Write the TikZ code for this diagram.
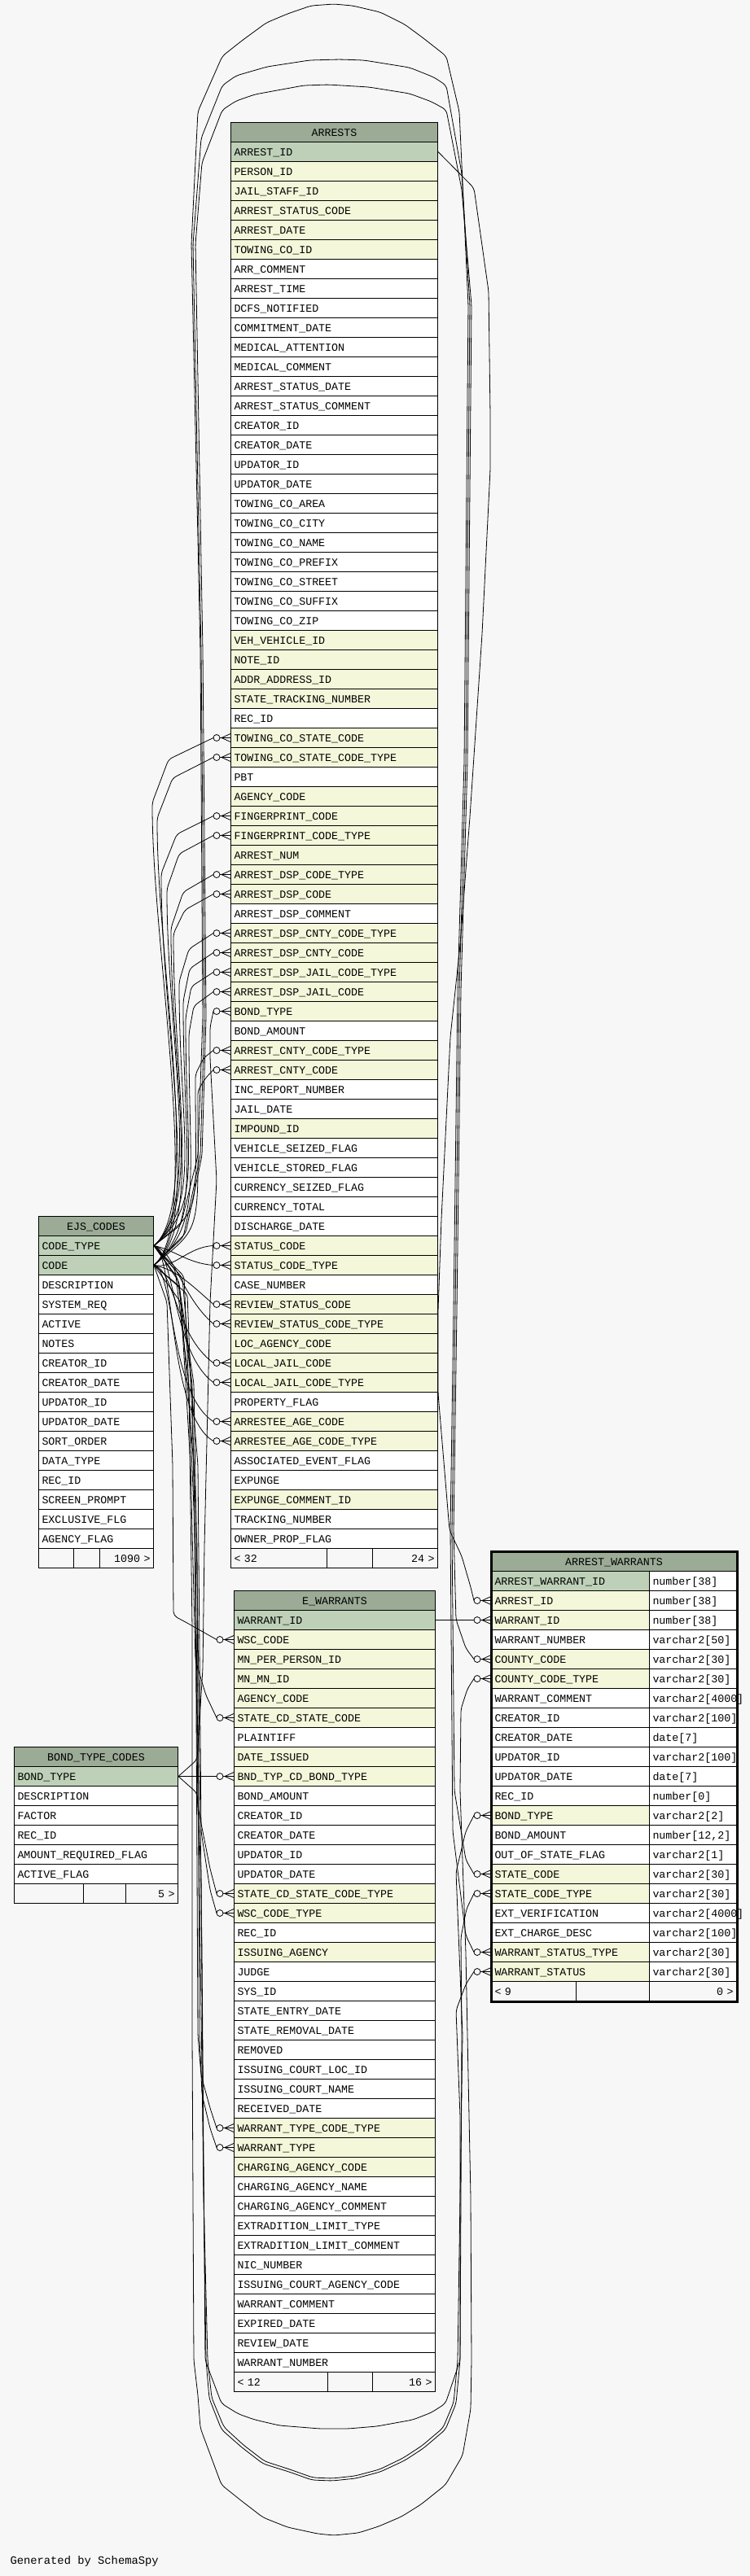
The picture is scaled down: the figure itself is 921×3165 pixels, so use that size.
\documentclass[tikz,border=0pt]{standalone}
\usepackage{fontspec}
\newfontfamily\tblfamily{Liberation Mono}
\newcommand{\tblfont}{\tblfamily\fontsize{13.3}{16}\selectfont}
\definecolor{bgcol}{HTML}{F7F7F7}
\definecolor{headcol}{HTML}{9BAB96}
\definecolor{keycol}{HTML}{BED1B8}
\definecolor{idxcol}{HTML}{F4F7DA}

\begin{document}
\catcode`\_=12
\begin{tikzpicture}[x=1pt,y=-1pt,
hdr/.style={draw,fill=headcol,anchor=north west,minimum height=24pt,inner xsep=4pt,inner ysep=0pt,align=center,text height=9pt,text depth=0pt,font=\tblfont,line width=1pt},
fld/.style={draw,anchor=north west,minimum height=24pt,inner xsep=4pt,inner ysep=0pt,align=left,text height=9pt,text depth=0pt,font=\tblfont,line width=1pt},
rel/.style={line width=0.8pt,rounded corners=5pt},
fkend/.pic={\draw[line width=0.8pt,fill=bgcol] (-17,0) circle[radius=4pt];
  \draw[line width=0.8pt] (-13,0) -- (0,0) (-11,0) -- (0,-5) (-11,0) -- (0,5);}]

\useasboundingbox (0,0) rectangle (921,3165);
\fill[bgcol] (0,0) rectangle (921,3165);

% ARRESTS
\node[hdr,text width=246pt] (ar) at (283,150) {ARRESTS};
\foreach \nm/\cl [count=\i] in {ARREST_ID/keycol, PERSON_ID/idxcol, JAIL_STAFF_ID/idxcol,
  ARREST_STATUS_CODE/idxcol, ARREST_DATE/idxcol, TOWING_CO_ID/idxcol, ARR_COMMENT/white,
  ARREST_TIME/white, DCFS_NOTIFIED/white, COMMITMENT_DATE/white, MEDICAL_ATTENTION/white,
  MEDICAL_COMMENT/white, ARREST_STATUS_DATE/white, ARREST_STATUS_COMMENT/white,
  CREATOR_ID/white, CREATOR_DATE/white, UPDATOR_ID/white, UPDATOR_DATE/white,
  TOWING_CO_AREA/white, TOWING_CO_CITY/white, TOWING_CO_NAME/white, TOWING_CO_PREFIX/white,
  TOWING_CO_STREET/white, TOWING_CO_SUFFIX/white, TOWING_CO_ZIP/white, VEH_VEHICLE_ID/idxcol,
  NOTE_ID/idxcol, ADDR_ADDRESS_ID/idxcol, STATE_TRACKING_NUMBER/idxcol, REC_ID/white,
  TOWING_CO_STATE_CODE/idxcol, TOWING_CO_STATE_CODE_TYPE/idxcol, PBT/white, AGENCY_CODE/idxcol,
  FINGERPRINT_CODE/idxcol, FINGERPRINT_CODE_TYPE/idxcol, ARREST_NUM/idxcol,
  ARREST_DSP_CODE_TYPE/idxcol, ARREST_DSP_CODE/idxcol, ARREST_DSP_COMMENT/white,
  ARREST_DSP_CNTY_CODE_TYPE/idxcol, ARREST_DSP_CNTY_CODE/idxcol, ARREST_DSP_JAIL_CODE_TYPE/idxcol,
  ARREST_DSP_JAIL_CODE/idxcol, BOND_TYPE/idxcol, BOND_AMOUNT/white, ARREST_CNTY_CODE_TYPE/idxcol,
  ARREST_CNTY_CODE/idxcol, INC_REPORT_NUMBER/white, JAIL_DATE/white, IMPOUND_ID/idxcol,
  VEHICLE_SEIZED_FLAG/white, VEHICLE_STORED_FLAG/white, CURRENCY_SEIZED_FLAG/white,
  CURRENCY_TOTAL/white, DISCHARGE_DATE/white, STATUS_CODE/idxcol, STATUS_CODE_TYPE/idxcol,
  CASE_NUMBER/white, REVIEW_STATUS_CODE/idxcol, REVIEW_STATUS_CODE_TYPE/idxcol,
  LOC_AGENCY_CODE/idxcol, LOCAL_JAIL_CODE/idxcol, LOCAL_JAIL_CODE_TYPE/idxcol, PROPERTY_FLAG/white,
  ARRESTEE_AGE_CODE/idxcol, ARRESTEE_AGE_CODE_TYPE/idxcol, ASSOCIATED_EVENT_FLAG/white,
  EXPUNGE/white, EXPUNGE_COMMENT_ID/idxcol, TRACKING_NUMBER/white, OWNER_PROP_FLAG/white}
  \node[fld,fill=\cl,text width=246pt] (ar-\i) at (283,150+24*\i) {\nm};
\node[fld,text width=109.7pt] (ar-f1) at (283,1902) {< 32};
\node[fld,text width=48.6pt] (ar-f2) at (400.7,1902) {};
\node[fld,text width=71.7pt,align=right] (ar-f3) at (457.3,1902) {24 >};

% EJS_CODES
\node[hdr,text width=133pt] (ejs) at (47,1494) {EJS_CODES};
\foreach \nm/\cl [count=\i] in {CODE_TYPE/keycol, CODE/keycol, DESCRIPTION/white, SYSTEM_REQ/white,
  ACTIVE/white, NOTES/white, CREATOR_ID/white, CREATOR_DATE/white, UPDATOR_ID/white,
  UPDATOR_DATE/white, SORT_ORDER/white, DATA_TYPE/white, REC_ID/white, SCREEN_PROMPT/white,
  EXCLUSIVE_FLG/white, AGENCY_FLAG/white}
  \node[fld,fill=\cl,text width=133pt] (ejs-\i) at (47,1494+24*\i) {\nm};
\node[fld,text width=35.3pt] (ejs-f1) at (47,1902) {};
\node[fld,text width=23.4pt] (ejs-f2) at (90.3,1902) {};
\node[fld,text width=58.3pt,align=right] (ejs-f3) at (121.7,1902) {1090 >};

% BOND_TYPE_CODES
\node[hdr,text width=193pt] (btc) at (17,2146) {BOND_TYPE_CODES};
\foreach \nm/\cl [count=\i] in {BOND_TYPE/keycol, DESCRIPTION/white, FACTOR/white, REC_ID/white,
  AMOUNT_REQUIRED_FLAG/white, ACTIVE_FLAG/white}
  \node[fld,fill=\cl,text width=193pt] (btc-\i) at (17,2146+24*\i) {\nm};
\node[fld,text width=77.3pt] (btc-f1) at (17,2314) {};
\node[fld,text width=44pt] (btc-f2) at (102.3,2314) {};
\node[fld,text width=55.7pt,align=right] (btc-f3) at (154.3,2314) {5 >};

% E_WARRANTS
\node[hdr,text width=239pt] (ew) at (287,1954) {E_WARRANTS};
\foreach \nm/\cl [count=\i] in {WARRANT_ID/keycol, WSC_CODE/idxcol, MN_PER_PERSON_ID/idxcol,
  MN_MN_ID/idxcol, AGENCY_CODE/idxcol, STATE_CD_STATE_CODE/idxcol, PLAINTIFF/white,
  DATE_ISSUED/idxcol, BND_TYP_CD_BOND_TYPE/idxcol, BOND_AMOUNT/white, CREATOR_ID/white,
  CREATOR_DATE/white, UPDATOR_ID/white, UPDATOR_DATE/white, STATE_CD_STATE_CODE_TYPE/idxcol,
  WSC_CODE_TYPE/idxcol, REC_ID/white, ISSUING_AGENCY/idxcol, JUDGE/white, SYS_ID/white,
  STATE_ENTRY_DATE/white, STATE_REMOVAL_DATE/white, REMOVED/white, ISSUING_COURT_LOC_ID/white,
  ISSUING_COURT_NAME/white, RECEIVED_DATE/white, WARRANT_TYPE_CODE_TYPE/idxcol,
  WARRANT_TYPE/idxcol, CHARGING_AGENCY_CODE/idxcol, CHARGING_AGENCY_NAME/white,
  CHARGING_AGENCY_COMMENT/white, EXTRADITION_LIMIT_TYPE/white, EXTRADITION_LIMIT_COMMENT/white,
  NIC_NUMBER/white, ISSUING_COURT_AGENCY_CODE/white, WARRANT_COMMENT/white, EXPIRED_DATE/white,
  REVIEW_DATE/white, WARRANT_NUMBER/white}
  \node[fld,fill=\cl,text width=239pt] (ew-\i) at (287,1954+24*\i) {\nm};
\node[fld,text width=106.7pt] (ew-f1) at (287,2914) {< 12};
\node[fld,text width=47.6pt] (ew-f2) at (401.7,2914) {};
\node[fld,text width=68.7pt,align=right] (ew-f3) at (457.3,2914) {16 >};

% ARREST_WARRANTS
\node[hdr,text width=293pt] (aw) at (603,1906) {ARREST_WARRANTS};
\foreach \nm/\ty/\cl [count=\i] in {ARREST_WARRANT_ID/number[38]/keycol, ARREST_ID/number[38]/idxcol,
  WARRANT_ID/number[38]/idxcol, WARRANT_NUMBER/varchar2[50]/white, COUNTY_CODE/varchar2[30]/idxcol,
  COUNTY_CODE_TYPE/varchar2[30]/idxcol, WARRANT_COMMENT/varchar2[4000]/white,
  CREATOR_ID/varchar2[100]/white, CREATOR_DATE/date[7]/white, UPDATOR_ID/varchar2[100]/white,
  UPDATOR_DATE/date[7]/white, REC_ID/number[0]/white, BOND_TYPE/varchar2[2]/idxcol,
  BOND_AMOUNT/{number[12,2]}/white, OUT_OF_STATE_FLAG/varchar2[1]/white,
  STATE_CODE/varchar2[30]/idxcol, STATE_CODE_TYPE/varchar2[30]/idxcol,
  EXT_VERIFICATION/varchar2[4000]/white, EXT_CHARGE_DESC/varchar2[100]/white,
  WARRANT_STATUS_TYPE/varchar2[30]/idxcol, WARRANT_STATUS/varchar2[30]/idxcol}
  {
  \node[fld,fill=\cl,text width=186pt] (aw-\i) at (603,1906+24*\i) {\nm};
  \node[fld,fill=white,text width=99pt] (aw-\i-t) at (797,1906+24*\i) {\ty};
  }
\node[fld,text width=96pt] (aw-f1) at (603,2434) {< 9};
\node[fld,text width=82pt] (aw-f2) at (707,2434) {};
\node[fld,text width=99pt,align=right] (aw-f3) at (797,2434) {0 >};
\draw[line width=3pt] (aw.north west) rectangle (aw-f3.south east);

% EJS_CODES -> ARRESTS, rows above the codes
\foreach \r/\p/\lx/\ly/\hx/\hy in {31/2/187/986/207/933, 32/1/193/1005/212/956,
  35/2/198/1073/217/1025, 36/1/205/1092/220/1049, 38/1/210/1140/225/1096,
  39/2/213/1147/227/1118, 41/1/220/1206/232/1166, 42/2/225/1230/233/1190,
  43/1/228/1250/235/1212, 44/2/232/1270/238/1236, 47/1/240/1320/250/1300,
  48/2/243/1340/252/1325}
  {
  \draw[rel] (ejs-\p.east) .. controls +(60,-50) and (\lx,\ly+180) .. (\lx,\ly) -- (\hx,\hy) -- ([xshift=-21pt]ar-\r.west);
  \pic at (ar-\r.west) {fkend};
  }
% EJS_CODES -> ARRESTS, rows below the codes
\foreach \r/\p/\cx/\cy in {57/2/230/1532, 58/1/230/1552, 60/2/228/1572, 61/1/222/1592,
  63/2/215/1640, 64/1/212/1662, 66/2/208/1712, 67/1/206/1738}
  {
  \draw[rel] (ejs-\p.east) .. controls +(25,5) and (\cx,\cy) .. ([xshift=-21pt]ar-\r.west);
  \pic at (ar-\r.west) {fkend};
  }

% EJS_CODES -> E_WARRANTS
\draw[rel] (ejs-2.east) -- (205,1600) -- (212,1800) -- (213,1985) -- (228,1993) -- ([xshift=-21pt]ew-2.west);
\draw[rel] (ejs-2.east) -- (222,1600) -- (234,1800) -- (240,2040) -- (253,2083) -- ([xshift=-21pt]ew-6.west);
\draw[rel] (ejs-1.east) -- (220,1575) -- (238,1800) -- (243,2220) -- (258,2296) -- ([xshift=-21pt]ew-15.west);
\draw[rel] (ejs-1.east) -- (224,1570) -- (243,1800) -- (247,2250) -- (258,2322) -- ([xshift=-21pt]ew-16.west);
\draw[rel] (ejs-1.east) -- (226,1568) -- (240,1900) -- (243,2500) -- (247,2550) -- (258,2590) -- ([xshift=-21pt]ew-27.west);
\draw[rel] (ejs-2.east) -- (230,1590) -- (242,1900) -- (245,2500) -- (248,2573) -- (258,2615) -- ([xshift=-21pt]ew-28.west);
\foreach \r in {2,6,15,16,27,28}
  \pic at (ew-\r.west) {fkend};

% EJS_CODES -> ARREST_WARRANTS, over the top
\draw[rel] (ejs-1.east) -- (222,1505) -- (243,1420) -- (249,1250) -- (246,800) -- (235,300) -- (243,137)
  -- (273,69) -- (297,50) -- (327,28) -- (353,17) -- (382,7) -- (410,5) -- (433,7) -- (467,15) -- (497,30)
  -- (520,47) -- (548,69) -- (564,137) -- (575,375) -- (570,936) -- (562,1217) -- (557,1610) -- (553,1880)
  -- (556,2250) -- (572,2378) -- ([xshift=-21pt]aw-20.west);
\draw[rel] (ejs-2.east) -- (225,1520) -- (246,1420) -- (251,1250) -- (247,800) -- (237,300) -- (247,170)
  -- (273,105) -- (290,93) -- (328,82) -- (380,74) -- (417,73) -- (447,74) -- (503,83) -- (533,95)
  -- (548,105) -- (567,213) -- (577,375) -- (572,936) -- (564,1217) -- (559,1610) -- (555,1880)
  -- (558,2200) -- (572,2285) -- ([xshift=-21pt]aw-16.west);
\draw[rel] (ejs-2.east) -- (228,1515) -- (248,1420) -- (253,1250) -- (249,800) -- (240,300) -- (248,200)
  -- (273,135) -- (290,124) -- (313,116) -- (373,105) -- (403,104) -- (453,107) -- (503,115) -- (530,125)
  -- (548,135) -- (567,233) -- (579,375) -- (574,936) -- (566,1217) -- (561,1610) -- (557,1880)
  -- (560,1990) -- (572,2025) -- ([xshift=-21pt]aw-5.west);

% EJS_CODES and BOND_TYPE_CODES -> ARREST_WARRANTS, under the bottom
\draw[rel] (ejs-2.east) -- (220,1580) -- (238,1700) -- (243,2000) -- (248,2400) -- (252,2900) -- (272,2953)
  -- (293,2966) -- (313,2973) -- (343,2980) -- (393,2984) -- (427,2984) -- (463,2981) -- (507,2973)
  -- (530,2964) -- (547,2953) -- (565,2900) -- (565,2600) -- (560,2470) -- (572,2438) -- ([xshift=-21pt]aw-21.west);
\draw[rel] (ejs-1.east) -- (218,1570) -- (236,1700) -- (241,2000) -- (246,2400) -- (253,2900) -- (257,2947)
  -- (272,2985) -- (297,3007) -- (323,3027) -- (355,3037) -- (383,3047) -- (408,3048) -- (437,3045)
  -- (467,3037) -- (497,3023) -- (520,3008) -- (547,2985) -- (560,2953) -- (565,2900) -- (567,2500)
  -- (566,2380) -- (573,2345) -- ([xshift=-21pt]aw-17.west);
\draw[rel] (btc-1.east) -- (242,2203) -- (247,2300) -- (250,2700) -- (255,2900) -- (260,2946) -- (275,2982)
  -- (299,3004) -- (325,3024) -- (356,3034) -- (384,3044) -- (408,3045) -- (436,3042) -- (466,3034)
  -- (495,3020) -- (518,3005) -- (544,2983) -- (557,2952) -- (562,2900) -- (568,2500) -- (560,2300)
  -- (572,2250) -- ([xshift=-21pt]aw-13.west);
\draw[rel] (ejs-1.east) -- (215,1560) -- (232,1700) -- (236,2000) -- (236,2500) -- (238,2900) -- (243,2943)
  -- (246,2983) -- (272,3053) -- (297,3073) -- (323,3093) -- (353,3105) -- (390,3113) -- (410,3115)
  -- (440,3112) -- (465,3104) -- (493,3092) -- (517,3077) -- (547,3053) -- (568,3017) -- (578,2960)
  -- (579,2900) -- (578,2700) -- (572,2400) -- (565,2200) -- (566,2100) -- (574,2075) -- ([xshift=-21pt]aw-6.west);
\foreach \r in {5,6,13,16,17,20,21}
  \pic at (aw-\r.west) {fkend};

% BOND_TYPE_CODES -> ARRESTS and E_WARRANTS
\draw[rel] (btc-1.east) -- (242,2162) -- (249,2050) -- (251,1900) -- (258,1600) -- (266,1450) -- (258,1300)
  -- (258,1262) -- ([xshift=-21pt]ar-45.west);
\pic at (ar-45.west) {fkend};
\draw[rel] (btc-1.east) -- ([xshift=-21pt]ew-9.west);
\pic at (ew-9.west) {fkend};

% ARRESTS and E_WARRANTS -> ARREST_WARRANTS
\draw[rel] (ar-1.east) -- (582,231) -- (600,358) -- (602,510) -- (602,577) -- (592,779) -- (577,1004)
  -- (565,1161) -- (553,1274) -- (542,1498) -- (538,1610) -- (538,1712) -- (552,1880) -- (567,1912)
  -- (578,1950) -- ([xshift=-21pt]aw-2.west);
\pic at (aw-2.west) {fkend};
\draw[rel] (ew-1.east) -- ([xshift=-21pt]aw-3.west);
\pic at (aw-3.west) {fkend};

\node[anchor=west,font=\tblfamily\fontsize{13.8}{16}\selectfont] (gen) at (9,3147) {Generated by SchemaSpy};

\end{tikzpicture}
\end{document}
